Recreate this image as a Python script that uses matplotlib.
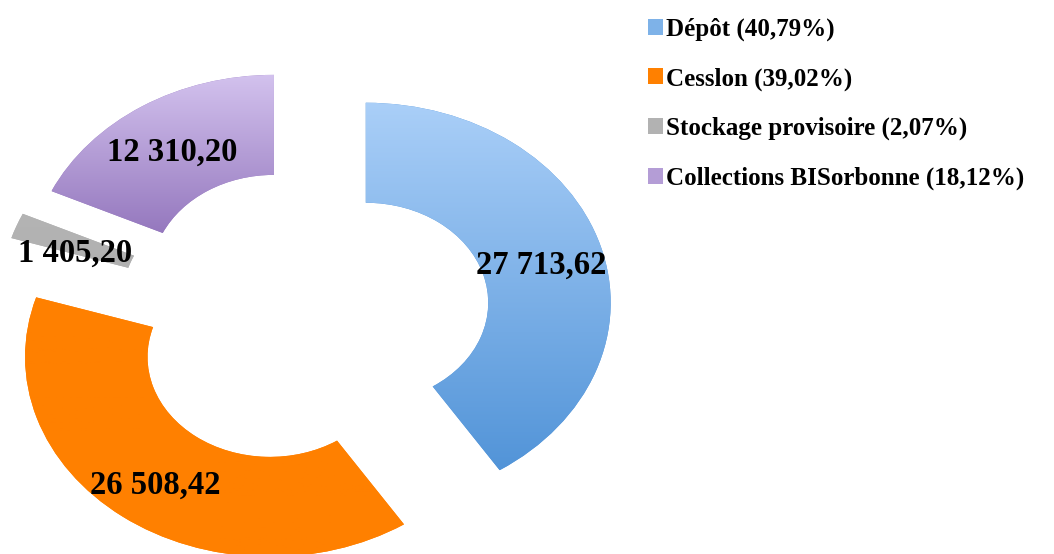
import numpy as np
import matplotlib
matplotlib.use('Agg')
import matplotlib.pyplot as plt
from matplotlib.colors import LinearSegmentedColormap, to_rgb, to_hex
from matplotlib.patches import Patch

categories = ['Dépôt', 'Cession', 'Stockage provisoire', 'Collections BISorbonne']
values = [27713.62, 26508.42, 1405.20, 12310.20]
value_labels = ['27 713,62', '26 508,42', '1 405,20', '12 310,20']
legend_labels = ['Dépôt (40,79%)', 'Cesslon (39,02%)', 'Stockage provisoire (2,07%)',
                 'Collections BISorbonne (18,12%)']

# top / bottom colour of each wedge's vertical gradient
grad_top = ['#AACFF8', '#FF8000', '#B4B4B4', '#D3C2EE']
grad_bottom = ['#5294D8', '#FF8000', '#B0B0B0', '#9578BE']

fig = plt.figure(figsize=(10.54, 5.54), dpi=100)
ax = fig.add_axes([0, 0, 1, 1])

wedges, _ = ax.pie(values, startangle=90, counterclock=False,
                   explode=[0.25, 0.25, 0.27, 0.25], radius=1,
                   wedgeprops=dict(width=0.5, linewidth=0))
ax.set_aspect('auto')
ax.set_xlim(-1.253, 3.049)
ax.set_ylim(-1.185, 1.585)
ax.axis('off')

grad = np.linspace(1, 0, 256).reshape(-1, 1)
for w, c0, c1 in zip(wedges, grad_top, grad_bottom):
    w.set_facecolor(c1)
    bb = w.get_path().get_extents(w.get_patch_transform())
    cmap = LinearSegmentedColormap.from_list('g', [c1, c0])
    im = ax.imshow(grad, cmap=cmap, aspect='auto', origin='upper',
                   extent=[bb.x0, bb.x1, bb.y0, bb.y1], zorder=w.get_zorder() + 0.1,
                   vmin=0, vmax=1)
    im.set_clip_path(w)

# label positions (data units, pie radius = 1)
label_pos = [(0.955, 0.26), (-0.62, -0.84), (-0.947, 0.32), (-0.551, 0.825)]
for (x, y), t in zip(label_pos, value_labels):
    ax.text(x, y, t, ha='center', va='center', fontsize=23.5, fontweight='bold',
            family='Liberation Serif', color='black', zorder=5)

handles = []
for c0, c1 in zip(grad_top, grad_bottom):
    mid = (np.array(to_rgb(c0)) + np.array(to_rgb(c1))) / 2
    handles.append(Patch(facecolor=to_hex(mid), edgecolor='none'))
fig.legend(handles, legend_labels, loc='upper left', bbox_to_anchor=(0.593, 1.009),
           frameon=False, handlelength=0.6, handleheight=0.6, handletextpad=0.15,
           labelspacing=1.05, prop=dict(family='Liberation Serif', weight='bold', size=18))

fig.savefig('out.png', dpi=100)
